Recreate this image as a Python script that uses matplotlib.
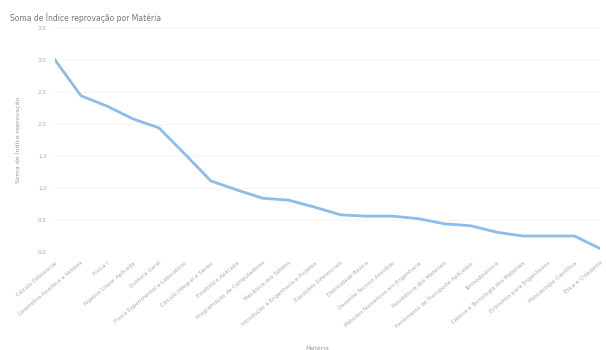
import matplotlib.pyplot as plt

# Soma de Índice de reprovação por Matéria
materias = [
    "Cálculo Diferencial",
    "Geometria Analítica e Vetores",
    "Física I",
    "Álgebra Linear Aplicada",
    "Química Geral",
    "Física Experimental e Laboratório",
    "Cálculo Integral e Séries",
    "Estatística Aplicada",
    "Programação de Computadores",
    "Mecânica dos Sólidos",
    "Introdução à Engenharia e Projetos",
    "Equações Diferenciais",
    "Eletricidade Básica",
    "Desenho Técnico Assistido",
    "Métodos Numéricos em Engenharia",
    "Resistência dos Materiais",
    "Fenômenos de Transporte Aplicados",
    "Termodinâmica",
    "Ciência e Tecnologia dos Materiais",
    "Economia para Engenheiros",
    "Metodologia Científica",
    "Ética e Cidadania",
]
indice = [3.00, 2.44, 2.28, 2.08, 1.94, 1.53, 1.11, 0.97, 0.84, 0.81, 0.70,
          0.58, 0.56, 0.56, 0.52, 0.44, 0.41, 0.31, 0.25, 0.25, 0.25, 0.05]
yticks = [0, 0.5, 1.0, 1.5, 2.0, 2.5, 3.0, 3.5]

fig = plt.figure(figsize=(6.06, 3.5), dpi=100)
ax = fig.add_axes([0.0908, 0.28, 0.9, 0.64])

ax.plot(range(len(materias)), indice, color="#8BBCEB", linewidth=2)

ax.set_xlim(0, len(materias) - 1)
ax.set_ylim(0, 3.5)
ax.set_yticks(yticks)
ax.set_yticklabels([f"{v:.1f}".replace(".", ",") for v in yticks])
ax.set_xticks(range(len(materias)))
ax.set_xticklabels(materias, rotation=40, ha="right", rotation_mode="anchor")
ax.tick_params(axis="both", length=0, labelsize=4, colors="#aaaaaa", pad=6)
ax.grid(axis="y", color="#f4f4f4", linewidth=0.6)
for s in ax.spines.values():
    s.set_visible(False)

ax.set_ylabel("Soma de Índice reprovação", fontsize=4.5, color="#999999", labelpad=12)
ax.set_xlabel("Matéria", fontsize=4.5, color="#999999")
ax.xaxis.set_label_coords(0.48, -0.42)
fig.text(0.016, 0.95, "Soma de Índice reprovação por Matéria", fontsize=5.5,
         color="#777777", ha="left", va="center")

fig.savefig("out.png", dpi=100)
